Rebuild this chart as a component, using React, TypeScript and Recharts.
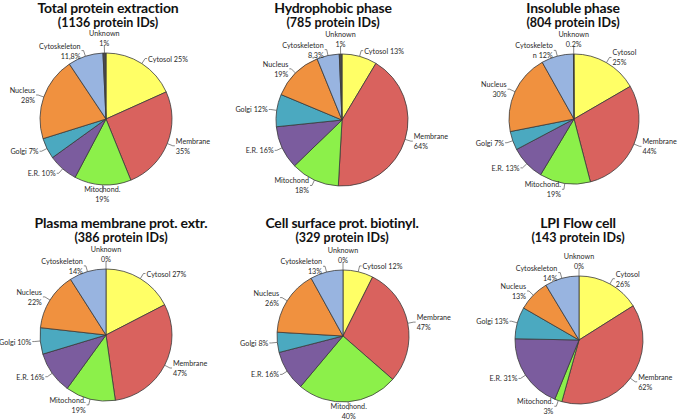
import React from 'react';
import { PieChart, Pie, Cell } from 'recharts';

const categories = ['Cytosol', 'Membrane', 'Mitochond.', 'E.R.', 'Golgi', 'Nucleus', 'Cytoskeleton', 'Unknown'];
const colors = ['#FFFF66', '#D9625E', '#8CF04A', '#7B5C9E', '#4BA9C0', '#F0913F', '#98B4E0', '#4A4A4A'];

const totalExtraction = [25, 35, 19, 10, 7, 28, 11.8, 1];
const hydrophobic = [13, 64, 18, 16, 12, 19, 8.3, 1];
const insoluble = [25, 44, 19, 13, 7, 30, 12, 0.2];
const plasmaMembrane = [27, 47, 19, 16, 10, 22, 14, 0];
const cellSurface = [12, 47, 40, 16, 8, 26, 13, 0];
const lpiFlow = [26, 62, 3, 31, 13, 13, 14, 0];

const labelsTotal = ['Cytosol 25%', 'Membrane\n35%', 'Mitochond.\n19%', 'E.R. 10%', 'Golgi 7%', 'Nucleus\n28%', 'Cytoskeleton\n11,8%', 'Unknown\n1%'];
const labelsHydro = ['Cytosol 13%', 'Membrane\n64%', 'Mitochond\n18%', 'E.R. 16%', 'Golgi 12%', 'Nucleus\n19%', 'Cytoskeleton\n8,3%', 'Unknown\n1%'];
const labelsInsol = ['Cytosol\n25%', 'Membrane\n44%', 'Mitochond.\n19%', 'E.R. 13%', 'Golgi 7%', 'Nucleus\n30%', 'Cytoskeleto\nn 12%', 'Unknown\n0.2%'];
const labelsPlasma = ['Cytosol 27%', 'Membrane\n47%', 'Mitochond.\n19%', 'E.R. 16%', 'Golgi 10%', 'Nucleus\n22%', 'Cytoskeleton\n14%', 'Unknown\n0%'];
const labelsSurface = ['Cytosol 12%', 'Membrane\n47%', 'Mitochond.\n40%', 'E.R. 16%', 'Golgi 8%', 'Nucleus\n26%', 'Cytoskeleton\n13%', 'Unknown\n0%'];
const labelsLpi = ['Cytosol\n26%', 'Membrane\n62%', 'Mitochond.\n3%', 'E.R. 31%', 'Golgi 13%', 'Nucleus\n13%', 'Cytoskeleton\n14%', 'Unknown\n0%'];

const titles = ['Total protein extraction', 'Hydrophobic phase', 'Insoluble phase', 'Plasma membrane prot. extr.', 'Cell surface prot. biotinyl.', 'LPI Flow cell'];
const subtitles = ['(1136 protein IDs)', '(785 protein IDs)', '(804 protein IDs)', '(386 protein IDs)', '(329 protein IDs)', '(143 protein IDs)'];

const seriesList = [totalExtraction, hydrophobic, insoluble, plasmaMembrane, cellSurface, lpiFlow];
const labelList = [labelsTotal, labelsHydro, labelsInsol, labelsPlasma, labelsSurface, labelsLpi];

const layout = [
  { cx: 106, cy: 119, r: 66, tx: 108, ty: 0 },
  { cx: 342, cy: 120, r: 66, tx: 333, ty: 0 },
  { cx: 574, cy: 119, r: 65, tx: 573, ty: 0 },
  { cx: 106, cy: 335, r: 66, tx: 121, ty: 215 },
  { cx: 343, cy: 336, r: 66, tx: 342, ty: 215 },
  { cx: 579, cy: 340, r: 64, tx: 578, ty: 215 },
];

const RADIAN = Math.PI / 180;
const FONT = 'Lato, "Open Sans", sans-serif';

const makeLabel = (texts: string[]) => (props: any) => {
  const { cx, cy, midAngle, outerRadius, index } = props;
  const c = Math.cos(-midAngle * RADIAN);
  const s = Math.sin(-midAngle * RADIAN);
  const anchor = c > 0.12 ? 'start' : c < -0.12 ? 'end' : 'middle';
  const off = anchor === 'middle' ? 8 : 6;
  const sx = cx + outerRadius * c;
  const sy = cy + outerRadius * s;
  const ex = cx + (outerRadius + off) * c;
  const ey = cy + (outerRadius + off) * s;
  const lines = texts[index].split('\n');
  const lh = 10;
  let tx = ex;
  let hx = ex;
  if (anchor === 'start') { hx = ex + 2; tx = ex + 3; }
  if (anchor === 'end') { hx = ex - 2; tx = ex - 3; }
  let firstY: number;
  if (anchor === 'middle') {
    firstY = s < 0 ? ey - (lines.length - 1) * lh + 1 : ey - 1;
  } else {
    firstY = ey - ((lines.length - 1) * lh) / 2 + 3;
  }
  return (
    <g key={`lbl-${index}`}>
      <path d={`M${sx},${sy}L${ex},${ey}L${hx},${ey}`} stroke="#555" strokeWidth={0.7} fill="none" />
      <text x={tx} y={firstY} textAnchor={anchor} fontSize={7.2} fill="#2a2a2a" fontFamily={FONT}>
        {lines.map((ln, i) => (
          <tspan key={i} x={tx} y={firstY + i * lh}>{ln}</tspan>
        ))}
      </text>
    </g>
  );
};

export default function App() {
  return (
    <div style={{ position: 'absolute', left: 0, top: 0, width: 685, height: 420, background: '#fff' }}>
      <PieChart width={685} height={420} margin={{ top: 0, right: 0, bottom: 0, left: 0 }}>
        {seriesList.map((vals, k) => {
          const data = categories.map((name, i) => ({ name, value: vals[i] }));
          const L = layout[k];
          return (
            <Pie
              key={k}
              data={data}
              dataKey="value"
              nameKey="name"
              cx={L.cx}
              cy={L.cy}
              outerRadius={L.r}
              startAngle={90}
              endAngle={-270}
              stroke="#3a3a3a"
              strokeWidth={0.8}
              isAnimationActive={false}
              labelLine={false}
              label={makeLabel(labelList[k])}
            >
              {data.map((d, i) => (
                <Cell key={i} fill={colors[i]} />
              ))}
            </Pie>
          );
        })}
      </PieChart>
      {titles.map((t, k) => (
        <div
          key={k}
          style={{
            position: 'absolute',
            left: layout[k].tx - 120,
            width: 240,
            top: layout[k].ty,
            textAlign: 'center',
            fontFamily: FONT,
            fontWeight: 700,
            color: '#111',
            whiteSpace: 'nowrap',
          }}
        >
          <div style={{ fontSize: 14, lineHeight: '15px', letterSpacing: -0.2 }}>{t}</div>
          <div style={{ fontSize: 12.5, lineHeight: '15px' }}>{subtitles[k]}</div>
        </div>
      ))}
    </div>
  );
}
